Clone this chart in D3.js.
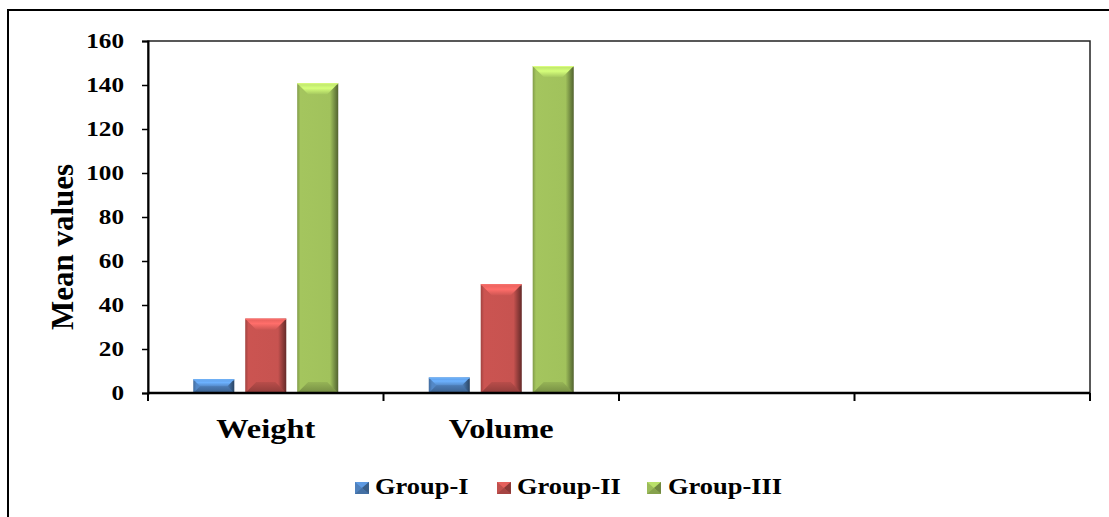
<!DOCTYPE html>
<html>
<head>
<meta charset="utf-8">
<script src="https://cdn.jsdelivr.net/npm/d3@7"></script>
<style>
  html, body { margin: 0; padding: 0; background: #fff; }
  svg { display: block; }
</style>
</head>
<body>
<svg id="chart" width="1109" height="517"></svg>
<script>
// Category axis has four slots; only the first two carry data
const categories = ["Weight", "Volume", "", " "];
const groups = ["Group-I", "Group-II", "Group-III"];
const groupI = [6.2, 7.0];
const groupII = [33.8, 49.4];
const groupIII = [140.8, 148.6];
const yTicks = [0, 20, 40, 60, 80, 100, 120, 140, 160];

const seriesValues = [groupI, groupII, groupIII];
const baseColors = ["#4F81BD", "#C0504D", "#9BBB59"];

const svg = d3.select("#chart");
const W = 1109, H = 517;
const plot = { left: 148, top: 41, right: 1090, bottom: 393 };
const font = "'Liberation Serif', 'Times New Roman', serif";
const stretch = 1.2; // text is set slightly wide

// Outer chart border (runs off the right and bottom edges)
svg.append("rect")
  .attr("x", 8).attr("y", 10)
  .attr("width", W + 20).attr("height", H + 20)
  .attr("fill", "none").attr("stroke", "#000").attr("stroke-width", 2);

const x0 = d3.scaleBand().domain(categories).range([plot.left, plot.right]).paddingInner(0).paddingOuter(0);
const y = d3.scaleLinear().domain([0, 160]).range([plot.bottom, plot.top]);

// Group layout inside a category: bar width 41, gap 11
const x1 = d3.scaleBand().domain(groups).range([0, 145]).paddingInner(0.21).paddingOuter(0);

// Gradients for the bevelled bar look
const defs = svg.append("defs");
baseColors.forEach((c, i) => {
  const base = d3.color(c);
  const g = defs.append("linearGradient").attr("id", "body" + i)
    .attr("x1", "0%").attr("x2", "100%").attr("y1", "0%").attr("y2", "0%");
  g.append("stop").attr("offset", "0%").attr("stop-color", base.darker(0.5));
  g.append("stop").attr("offset", "8%").attr("stop-color", base.brighter(0.15));
  g.append("stop").attr("offset", "80%").attr("stop-color", base.brighter(0.1));
  g.append("stop").attr("offset", "92%").attr("stop-color", base.darker(0.9));
  g.append("stop").attr("offset", "100%").attr("stop-color", base.darker(1.8));

  const t = defs.append("linearGradient").attr("id", "top" + i)
    .attr("x1", "0%").attr("x2", "0%").attr("y1", "0%").attr("y2", "100%");
  t.append("stop").attr("offset", "0%").attr("stop-color", base.brighter(0.5));
  t.append("stop").attr("offset", "45%").attr("stop-color", base.brighter(0.9));
  t.append("stop").attr("offset", "100%").attr("stop-color", base.brighter(0.2));

  const b = defs.append("linearGradient").attr("id", "bot" + i)
    .attr("x1", "0%").attr("x2", "0%").attr("y1", "0%").attr("y2", "100%");
  b.append("stop").attr("offset", "0%").attr("stop-color", base.darker(0.1));
  b.append("stop").attr("offset", "100%").attr("stop-color", base.darker(0.8));
});

function drawBevelBar(g, x, yTop, w, h, i) {
  const base = d3.color(baseColors[i]);
  const bev = Math.min(11, h / 2, w / 2);
  g.append("rect").attr("x", x).attr("y", yTop).attr("width", w).attr("height", h)
    .attr("fill", `url(#body${i})`);
  // top bevel
  g.append("path")
    .attr("d", `M${x},${yTop} L${x + w},${yTop} L${x + w - bev},${yTop + bev} L${x + bev},${yTop + bev} Z`)
    .attr("fill", `url(#top${i})`);
  // bottom bevel
  g.append("path")
    .attr("d", `M${x},${yTop + h} L${x + w},${yTop + h} L${x + w - bev},${yTop + h - bev} L${x + bev},${yTop + h - bev} Z`)
    .attr("fill", `url(#bot${i})`);
  // thin highlight on the top edge
  g.append("line").attr("x1", x).attr("x2", x + w).attr("y1", yTop + 0.5).attr("y2", yTop + 0.5)
    .attr("stroke", base.brighter(1.0)).attr("stroke-width", 1);
}

// Bars
const barsG = svg.append("g");
categories.forEach((cat, ci) => {
  seriesValues.forEach((vals, si) => {
    if (ci >= vals.length) return;
    const v = vals[ci];
    const cx = x0(cat) + x0.bandwidth() / 2;
    const bx = cx - 145 / 2 + x1(groups[si]);
    const yTop = y(v);
    drawBevelBar(barsG, bx, yTop, x1.bandwidth(), y(0) - yTop, si);
  });
});

// Plot-area frame
svg.append("rect")
  .attr("x", plot.left).attr("y", plot.top)
  .attr("width", plot.right - plot.left).attr("height", plot.bottom - plot.top)
  .attr("fill", "none").attr("stroke", "#222").attr("stroke-width", 1.5);

// Y axis
const yAxis = d3.axisLeft(y).tickValues(yTicks).tickSize(6).tickPadding(0);
const yg = svg.append("g").attr("transform", `translate(${plot.left},0)`).call(yAxis);
yg.select(".domain").attr("stroke", "#000").attr("stroke-width", 2);
yg.selectAll(".tick line").attr("stroke", "#000").attr("stroke-width", 1.5);
yg.selectAll(".tick text")
  .attr("x", -24 / stretch)
  .attr("transform", `scale(${stretch},1)`)
  .attr("font-family", font).attr("font-weight", "bold").attr("font-size", 21)
  .attr("fill", "#000");

// X axis: ticks at category boundaries, labels centred on slots
const xg = svg.append("g").attr("transform", `translate(0,${plot.bottom})`);
xg.append("line").attr("x1", plot.left).attr("x2", plot.right)
  .attr("stroke", "#000").attr("stroke-width", 2.5);
const bounds = categories.map(c => x0(c)).concat([plot.right]);
xg.selectAll("line.tick").data(bounds).enter().append("line")
  .attr("class", "tick")
  .attr("x1", d => d).attr("x2", d => d).attr("y1", 0).attr("y2", 8)
  .attr("stroke", "#000").attr("stroke-width", 2);
xg.selectAll("text").data(categories.filter(c => c.trim() !== "")).enter().append("text")
  .attr("transform", d => `translate(${x0(d) + x0.bandwidth() / 2},45) scale(${stretch},1)`)
  .attr("text-anchor", "middle")
  .attr("font-family", font).attr("font-weight", "bold").attr("font-size", 27)
  .text(d => d);

// Y axis title
svg.append("text")
  .attr("transform", `translate(73,247) rotate(-90)`)
  .attr("text-anchor", "middle")
  .attr("font-family", font).attr("font-weight", "bold").attr("font-size", 31)
  .text("Mean values");

// Legend
const legendX = [355, 497, 647];
const legendTextX = [375, 517, 668];
const legend = svg.append("g").attr("transform", "translate(0,494)");
groups.forEach((gname, i) => {
  const base = d3.color(baseColors[i]);
  const sw = 14, sh = 12, lx = legendX[i], ly = -12;
  const lg = legend.append("g");
  lg.append("rect").attr("x", lx).attr("y", ly).attr("width", sw).attr("height", sh).attr("fill", base);
  lg.append("path").attr("d", `M${lx},${ly} L${lx + sw},${ly} L${lx + sw / 2},${ly + sh / 2} Z`).attr("fill", base.brighter(0.5));
  lg.append("path").attr("d", `M${lx + sw},${ly} L${lx + sw},${ly + sh} L${lx + sw / 2},${ly + sh / 2} Z`).attr("fill", base.darker(0.9));
  lg.append("path").attr("d", `M${lx},${ly + sh} L${lx + sw},${ly + sh} L${lx + sw / 2},${ly + sh / 2} Z`).attr("fill", base.darker(0.4));
  lg.append("text")
    .attr("transform", `translate(${legendTextX[i]},0) scale(1.15,1)`)
    .attr("font-family", font).attr("font-weight", "bold").attr("font-size", 23)
    .text(gname);
});
</script>
</body>
</html>
